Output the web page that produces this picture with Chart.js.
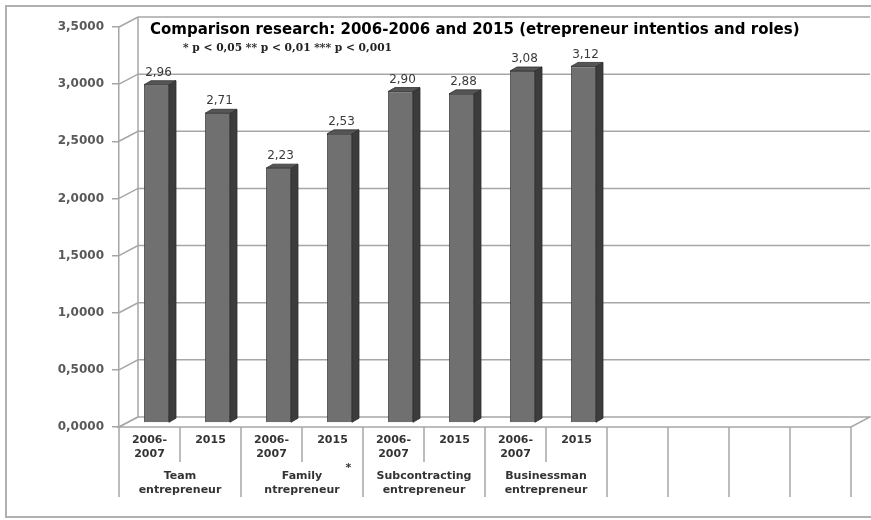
<!DOCTYPE html>
<html>
<head>
<meta charset="utf-8">
<title>Comparison research</title>
<script src="https://cdn.jsdelivr.net/npm/chart.js@4/dist/chart.umd.min.js"></script>
<style>
  html, body { margin: 0; padding: 0; background: #fff; }
  #wrap { width: 871px; height: 520px; position: relative; }
</style>
</head>
<body>
<div id="wrap"><canvas id="chart" width="871" height="520"></canvas></div>
<script>
// Chart data
const periods = [
  ['2006-', '2007'], '2015', ['2006-', '2007'], '2015',
  ['2006-', '2007'], '2015', ['2006-', '2007'], '2015',
  '', '', '', ''
];
const groups = [
  ['Team', 'entrepreneur'],
  ['Family', 'ntrepreneur'],
  ['Subcontracting', 'entrepreneur'],
  ['Businessman', 'entrepreneur']
];
const means = [2.96, 2.71, 2.23, 2.53, 2.90, 2.88, 3.08, 3.12, null, null, null, null];
const marks = ['', '', '', '*', '', '', '', '', '', '', '', ''];
const yMin = 0;
const yMax = 3.5;
const yStep = 0.5;

const titleText = 'Comparison research: 2006-2006 and 2015 (etrepreneur intentios and roles)';
const noteText = '* p < 0,05 ** p < 0,01 *** p < 0,001';

const FONT = '"DejaVu Sans", sans-serif';
const LINE = '#a6a6a6';
const WALL = { dx: 19, dy: -10 };   // depth of the 3D box
const BAR = { dx: 7, dy: -4 };      // bar shift into the box and bar depth

const comma = v => v.toFixed(2).replace('.', ',');

// Walls, floor and bottom table
const box3d = {
  id: 'box3d',
  beforeDatasetsDraw(chart) {
    const { ctx, chartArea: a, scales: { x, y } } = chart;
    ctx.save();
    ctx.strokeStyle = LINE;
    ctx.lineWidth = 1.5;

    // back wall + left wall grid
    y.ticks.forEach(t => {
      const py = y.getPixelForValue(t.value);
      ctx.beginPath();
      ctx.moveTo(a.left, py);
      ctx.lineTo(a.left + WALL.dx, py + WALL.dy);
      if (t.value > yMin) ctx.lineTo(a.right + WALL.dx, py + WALL.dy);
      ctx.stroke();
    });
    ctx.beginPath();
    ctx.moveTo(a.left + WALL.dx, a.top + WALL.dy);
    ctx.lineTo(a.left + WALL.dx, a.bottom + WALL.dy);
    ctx.stroke();

    // floor
    ctx.fillStyle = '#fff';
    ctx.beginPath();
    ctx.moveTo(a.left, a.bottom);
    ctx.lineTo(a.right, a.bottom);
    ctx.lineTo(a.right + WALL.dx, a.bottom + WALL.dy);
    ctx.lineTo(a.left + WALL.dx, a.bottom + WALL.dy);
    ctx.closePath();
    ctx.fill();
    ctx.stroke();

    // table separators under the axis
    const n = periods.length;
    const slot = x.getPixelForValue(1) - x.getPixelForValue(0);
    for (let i = 0; i <= n; i++) {
      const px = x.getPixelForValue(0) - slot / 2 + i * slot;
      const long = i % 2 === 0 || i >= groups.length * 2;
      ctx.beginPath();
      ctx.moveTo(px, a.bottom);
      ctx.lineTo(px, a.bottom + (long ? 70 : 35));
      ctx.stroke();
    }

    ctx.restore();
    ctx.save();
    ctx.translate(BAR.dx, BAR.dy);
  },
  afterDatasetsDraw(chart) {
    const { ctx } = chart;
    const meta = chart.getDatasetMeta(0);
    meta.data.forEach((bar, i) => {
      if (means[i] == null) return;
      const { x, y, base, width } = bar.getProps(['x', 'y', 'base', 'width'], true);
      const l = x - width / 2, r = x + width / 2;
      ctx.lineWidth = 0.8;
      ctx.strokeStyle = '#2e2e2e';
      // side face
      ctx.fillStyle = '#3c3c3c';
      ctx.beginPath();
      ctx.moveTo(r, y);
      ctx.lineTo(r + BAR.dx, y + BAR.dy);
      ctx.lineTo(r + BAR.dx, base + BAR.dy);
      ctx.lineTo(r, base);
      ctx.closePath();
      ctx.fill();
      ctx.stroke();
      // top face
      ctx.fillStyle = '#555';
      ctx.beginPath();
      ctx.moveTo(l, y);
      ctx.lineTo(l + BAR.dx, y + BAR.dy);
      ctx.lineTo(r + BAR.dx, y + BAR.dy);
      ctx.lineTo(r, y);
      ctx.closePath();
      ctx.fill();
      ctx.stroke();
      // value label
      ctx.fillStyle = '#3a3a3a';
      ctx.font = '12px ' + FONT;
      ctx.textAlign = 'center';
      ctx.textBaseline = 'middle';
      ctx.fillText(comma(means[i]), x + 2, y + BAR.dy - 8);
    });
    ctx.restore();
  },
  afterDraw(chart) {
    const { ctx, chartArea: a, scales: { x } } = chart;
    const W = chart.width, H = chart.height;
    ctx.save();

    // group labels
    ctx.fillStyle = '#333';
    ctx.font = 'bold 11px ' + FONT;
    ctx.textAlign = 'center';
    ctx.textBaseline = 'middle';
    groups.forEach((g, k) => {
      const cx = (x.getPixelForValue(k * 2) + x.getPixelForValue(k * 2 + 1)) / 2;
      g.forEach((line, j) => ctx.fillText(line, cx, a.bottom + 49 + j * 14));
    });
    marks.forEach((m, i) => {
      if (m) ctx.fillText(m, x.getPixelForValue(i) + 16, a.bottom + 41);
    });

    // title and note
    ctx.fillStyle = '#000';
    ctx.font = 'bold 15px ' + FONT;
    ctx.textAlign = 'left';
    ctx.fillText(titleText, a.left + 31, a.top + 3);

    ctx.font = 'bold 11px "DejaVu Serif", serif';
    ctx.fillStyle = '#222';
    const nw = ctx.measureText(noteText).width;
    ctx.translate(a.left + 64, a.top + 21);
    ctx.scale(209 / nw, 1);
    ctx.fillText(noteText, 0, 0);
    ctx.setTransform(1, 0, 0, 1, 0, 0);

    // outer frame
    ctx.strokeStyle = '#b0b0b0';
    ctx.lineWidth = 2;
    ctx.strokeRect(6, 6, W + 10, H - 9);
    ctx.restore();
  }
};

new Chart(document.getElementById('chart'), {
  type: 'bar',
  data: {
    labels: periods,
    datasets: [{
      data: means,
      backgroundColor: '#707070',
      borderColor: '#2e2e2e',
      borderWidth: 0.8,
      categoryPercentage: 1,
      barPercentage: 0.41
    }]
  },
  options: {
    responsive: false,
    animation: false,
    layout: { padding: { left: 0, top: 27, right: 20, bottom: 0 } },
    plugins: {
      legend: { display: false },
      tooltip: { enabled: false }
    },
    scales: {
      x: {
        afterFit(scale) { scale.height = 93; },
        grid: { display: false, drawTicks: false },
        border: { display: false },
        ticks: {
          autoSkip: false,
          maxRotation: 0,
          padding: 7,
          color: '#333',
          font: { family: FONT, size: 11, weight: 'bold' }
        }
      },
      y: {
        min: yMin,
        max: yMax,
        afterFit(scale) { scale.width = 119; },
        grid: { drawOnChartArea: false, tickLength: 7, color: LINE, lineWidth: 1.5 },
        border: { color: LINE, width: 1.5 },
        ticks: {
          stepSize: yStep,
          padding: 8,
          color: '#595959',
          font: { family: FONT, size: 12, weight: 'bold' },
          callback: v => v.toFixed(4).replace('.', ',')
        }
      }
    }
  },
  plugins: [box3d]
});
</script>
</body>
</html>
